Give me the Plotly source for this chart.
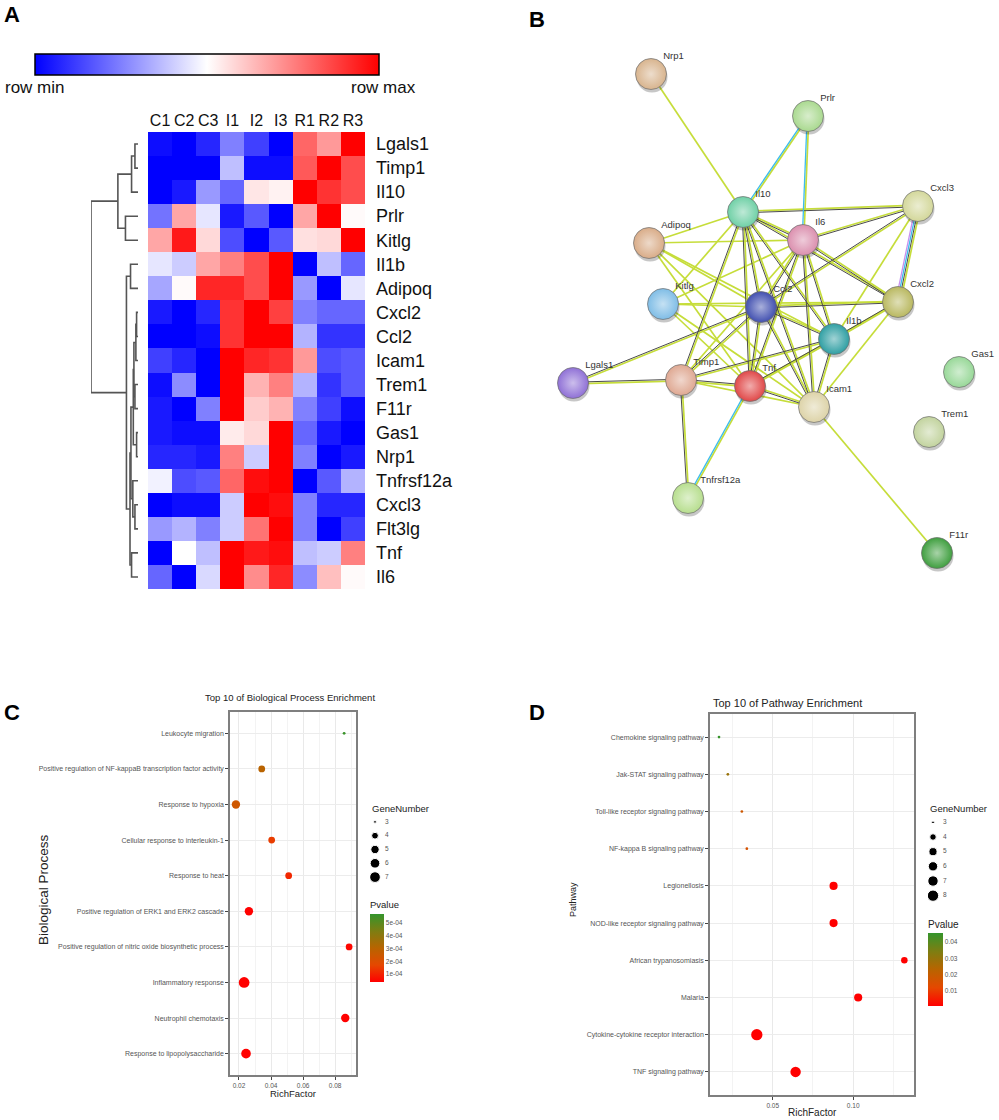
import plotly.graph_objects as go

W, H = 999, 1120
FONT = "Liberation Sans, Arial, sans-serif"

def PX(x):
    return x / W

def PY(y):
    return 1 - y / H

# ---------------- Panel A data ----------------
samples = ["C1", "C2", "C3", "I1", "I2", "I3", "R1", "R2", "R3"]
genes = ["Lgals1", "Timp1", "Il10", "Prlr", "Kitlg", "Il1b", "Adipoq", "Cxcl2", "Ccl2",
         "Icam1", "Trem1", "F11r", "Gas1", "Nrp1", "Tnfrsf12a", "Cxcl3", "Flt3lg", "Tnf", "Il6"]
expr = [
    [-0.95, -1.00, -0.85, -0.50, -0.75, -1.00, 0.60, 0.40, 1.00],
    [-1.00, -1.00, -1.00, -0.25, -0.95, -0.95, 0.65, 1.00, 0.70],
    [-1.00, -0.90, -0.40, -0.60, 0.10, 0.05, 1.00, 0.80, 0.70],
    [-0.55, 0.35, -0.10, -0.90, -0.65, -1.00, 0.35, 1.00, 0.02],
    [0.35, 0.90, 0.15, -0.70, -1.00, -0.65, 0.12, 0.15, 1.00],
    [-0.10, -0.20, 0.35, 0.50, 0.70, 1.00, -1.00, -0.25, -0.60],
    [-0.35, 0.02, 0.85, 0.85, 0.70, 1.00, -0.40, -1.00, -0.10],
    [-0.90, -1.00, -0.85, 0.80, 1.00, 0.75, -0.50, -0.60, -0.60],
    [-1.00, -1.00, -0.95, 0.80, 1.00, 1.00, -0.30, -0.80, -0.80],
    [-0.75, -0.85, -1.00, 1.00, 0.85, 0.80, 0.40, -0.70, -0.65],
    [-0.95, -0.45, -1.00, 1.00, 0.30, 0.50, -0.30, -0.80, -0.65],
    [-0.90, -1.00, -0.50, 1.00, 0.20, 0.30, -0.50, -0.75, -0.95],
    [-0.90, -0.95, -0.95, 0.08, 0.15, 1.00, -0.60, -0.90, -1.00],
    [-0.85, -0.85, -0.90, 0.50, -0.20, 1.00, -0.50, -1.00, -0.90],
    [-0.05, -0.70, -0.65, 0.60, 0.95, 1.00, -1.00, -0.65, -0.30],
    [-1.00, -0.95, -0.95, -0.20, 1.00, 0.95, -0.50, -0.85, -0.85],
    [-0.40, -0.30, -0.50, -0.20, 0.55, 1.00, -0.50, -1.00, -0.75],
    [-1.00, 0.00, -0.25, 1.00, 0.90, 0.95, -0.25, -0.20, 0.50],
    [-0.60, -1.00, -0.15, 1.00, 0.45, 0.85, -0.45, 0.25, 0.02],
]
# hierarchical clustering merges: (child_a, child_b, height); leaves 0..18, new nodes 19..
linkage = [
    (0, 1, 0.065), (19, 2, 0.137), (3, 4, 0.267), (20, 21, 0.428),
    (5, 6, 0.159), (7, 8, 0.03), (24, 9, 0.045), (10, 11, 0.065),
    (25, 26, 0.087), (12, 13, 0.03), (27, 28, 0.10), (15, 16, 0.065),
    (14, 30, 0.11), (29, 31, 0.15), (17, 18, 0.137), (32, 33, 0.17),
    (23, 34, 0.246), (22, 35, 1.0),
]

# ---------------- Panel B data ----------------
net_nodes = ["Nrp1", "Prlr", "Il10", "Cxcl3", "Adipoq", "Il6", "Kitlg", "Ccl2", "Cxcl2",
             "Il1b", "Gas1", "Lgals1", "Timp1", "Tnf", "Icam1", "Trem1", "Tnfrsf12a", "F11r"]
net_x = [651, 808, 743, 918, 649, 803, 663, 761, 898, 834, 959, 573, 681, 750, 814, 929, 688, 937]
net_y = [74, 116, 212, 206, 243, 240, 304, 307, 302, 339, 372, 383, 380, 386, 407, 432, 498, 553]
net_colors = ["#d8b48e", "#a9d98f", "#6fd0a6", "#d3d79a", "#d9ac88", "#db8fae", "#7fbde6",
              "#4250b0", "#b9b860", "#2f9fa3", "#98d898", "#8f70d6", "#dfa892", "#e04848",
              "#ddd3a8", "#c2d39e", "#b7de8e", "#3f9f3f"]
# edge evidence: g = text mining, k = co-expression, c = databases, p = experiments
net_edges = [
    ("Nrp1", "Il10", "g"), ("Prlr", "Il10", "gc"), ("Prlr", "Il6", "gc"),
    ("Il10", "Cxcl3", "gk"), ("Il6", "Cxcl3", "gk"), ("Cxcl3", "Cxcl2", "gkcp"),
    ("Cxcl3", "Ccl2", "gk"), ("Cxcl3", "Il1b", "g"), ("Il10", "Adipoq", "g"),
    ("Il10", "Il6", "gk"), ("Il10", "Ccl2", "gk"), ("Il10", "Cxcl2", "gk"),
    ("Il10", "Il1b", "gk"), ("Il10", "Tnf", "gk"), ("Il10", "Icam1", "gk"),
    ("Il10", "Timp1", "gk"), ("Il10", "Kitlg", "g"), ("Adipoq", "Il6", "g"),
    ("Adipoq", "Ccl2", "g"), ("Adipoq", "Tnf", "g"), ("Adipoq", "Icam1", "g"),
    ("Adipoq", "Il1b", "g"), ("Kitlg", "Il6", "g"), ("Kitlg", "Ccl2", "g"),
    ("Kitlg", "Tnf", "g"), ("Kitlg", "Icam1", "g"), ("Kitlg", "Cxcl2", "g"),
    ("Ccl2", "Il6", "gk"), ("Ccl2", "Cxcl2", "gk"), ("Ccl2", "Il1b", "gk"),
    ("Ccl2", "Tnf", "gk"), ("Ccl2", "Icam1", "gk"), ("Ccl2", "Timp1", "gk"),
    ("Ccl2", "Lgals1", "gk"), ("Il6", "Cxcl2", "gk"), ("Il6", "Il1b", "gk"),
    ("Il6", "Tnf", "gk"), ("Il6", "Icam1", "gk"), ("Il6", "Timp1", "g"),
    ("Cxcl2", "Il1b", "gk"), ("Cxcl2", "Icam1", "g"), ("Cxcl2", "Tnf", "g"),
    ("Il1b", "Tnf", "gk"), ("Il1b", "Icam1", "gk"), ("Il1b", "Timp1", "gk"),
    ("Tnf", "Icam1", "gk"), ("Tnf", "Timp1", "gk"), ("Tnf", "Tnfrsf12a", "gc"),
    ("Timp1", "Lgals1", "gk"), ("Timp1", "Tnfrsf12a", "gk"), ("Timp1", "Icam1", "g"),
    ("Icam1", "F11r", "g"),
]

# ---------------- Panel C data ----------------
bp_terms = ["Leukocyte migration",
            "Positive regulation of NF-kappaB transcription factor activity",
            "Response to hypoxia", "Cellular response to interleukin-1", "Response to heat",
            "Positive regulation of ERK1 and ERK2 cascade",
            "Positive regulation of nitric oxide biosynthetic process",
            "Inflammatory response", "Neutrophil chemotaxis", "Response to lipopolysaccharide"]
bp_rich = [0.0856, 0.0342, 0.0181, 0.0404, 0.0510, 0.0262, 0.0887, 0.0232, 0.0863, 0.0244]
bp_genes = [3, 4, 5, 4, 4, 5, 4, 7, 5, 6]
bp_pval = [5.6e-4, 3.0e-4, 2.4e-4, 1.5e-4, 1.1e-4, 4e-5, 5e-5, 4e-5, 4e-5, 4e-5]
bp_xticks = [0.02, 0.04, 0.06, 0.08]
bp_ptick = [1e-4, 2e-4, 3e-4, 4e-4, 5e-4]
bp_ptick_text = ["1e-04", "2e-04", "3e-04", "4e-04", "5e-04"]
bp_size_levels = [3, 4, 5, 6, 7]

# ---------------- Panel D data ----------------
kegg_terms = ["Chemokine signaling pathway", "Jak-STAT signaling pathway",
              "Toll-like receptor signaling pathway", "NF-kappa B signaling pathway",
              "Legionellosis", "NOD-like receptor signaling pathway",
              "African trypanosomiasis", "Malaria",
              "Cytokine-cytokine receptor interaction", "TNF signaling pathway"]
kegg_rich = [0.0166, 0.0221, 0.0308, 0.0339, 0.0878, 0.0878, 0.1318, 0.1031, 0.0401, 0.0642]
kegg_genes = [3, 3, 3, 3, 5, 5, 4, 5, 8, 7]
kegg_pval = [0.045, 0.029, 0.018, 0.016, 0.0008, 0.0008, 0.0008, 0.0008, 0.0008, 0.0008]
kegg_xticks = [0.05, 0.10]
kegg_ptick = [0.01, 0.02, 0.03, 0.04]
kegg_size_levels = [3, 4, 5, 6, 7, 8]

# ---------------- helpers ----------------
P_SCALE = [[0.0, "#ff0000"], [0.25, "#e54800"], [0.5, "#b86400"],
           [0.75, "#7d7e12"], [1.0, "#34952c"]]


def size_map(g, gmin, gmax, dmin, dmax):
    return dmin + (dmax - dmin) * ((g - gmin) / (gmax - gmin)) ** 0.5


def lighten(hexc, f):
    h = hexc.lstrip("#")
    r, g, b = int(h[0:2], 16), int(h[2:4], 16), int(h[4:6], 16)
    r = int(r + (255 - r) * f)
    g = int(g + (255 - g) * f)
    b = int(b + (255 - b) * f)
    return "#%02x%02x%02x" % (r, g, b)


fig = go.Figure()

# ================= Panel A: heatmap =================
fig.add_trace(go.Heatmap(
    z=expr, x=samples, y=list(range(len(genes))),
    colorscale=[[0, "#0000ff"], [0.5, "#ffffff"], [1, "#ff0000"]],
    zmin=-1, zmax=1, xaxis="x", yaxis="y", hoverinfo="skip",
    colorbar=dict(orientation="h", x=PX(35), xanchor="left", y=PY(54), yanchor="top",
                  len=344 / W, lenmode="fraction", thickness=21, xpad=0, ypad=0,
                  outlinecolor="black", outlinewidth=1.5, showticklabels=False, ticks=""),
))

# dendrogram from linkage
pos = {i: float(i) for i in range(len(genes))}
hgt = {i: 0.0 for i in range(len(genes))}
dx, dy = [], []
for k, (a, b, h) in enumerate(linkage):
    nid = len(genes) + k
    pa, pb = pos[a], pos[b]
    dx += [hgt[a], h, h, hgt[b], None]
    dy += [pa, pa, pb, pb, None]
    pos[nid] = (pa + pb) / 2
    hgt[nid] = h
fig.add_trace(go.Scatter(x=dx, y=dy, mode="lines", xaxis="x2", yaxis="y2",
                         line=dict(color="#555555", width=1.6), hoverinfo="skip",
                         showlegend=False))

# ================= Panel B: network =================
idx = {n: i for i, n in enumerate(net_nodes)}
type_color = {"g": "#c6dd3a", "k": "#4a4a4a", "c": "#3cbcec", "p": "#c890ee"}
type_width = {"g": 1.7, "k": 1.0, "c": 1.3, "p": 1.3}
seg = {t: ([], []) for t in type_color}
for a, b, types in net_edges:
    x0, y0 = net_x[idx[a]], net_y[idx[a]]
    x1, y1 = net_x[idx[b]], net_y[idx[b]]
    L = ((x1 - x0) ** 2 + (y1 - y0) ** 2) ** 0.5
    nx, ny = -(y1 - y0) / L, (x1 - x0) / L
    n = len(types)
    for i, t in enumerate(types):
        o = (i - (n - 1) / 2) * 1.6
        seg[t][0].extend([x0 + nx * o, x1 + nx * o, None])
        seg[t][1].extend([y0 + ny * o, y1 + ny * o, None])
for t in ["g", "k", "c", "p"]:
    fig.add_trace(go.Scatter(x=seg[t][0], y=seg[t][1], mode="lines", xaxis="x3", yaxis="y3",
                             line=dict(color=type_color[t], width=type_width[t]),
                             hoverinfo="skip", showlegend=False))
# shadows
fig.add_trace(go.Scatter(x=[v + 1 for v in net_x], y=[v + 3 for v in net_y], mode="markers",
                         xaxis="x3", yaxis="y3", hoverinfo="skip", showlegend=False,
                         marker=dict(size=31, color="rgba(0,0,0,0.22)", opacity=1,
                                     line=dict(width=0))))
fig.add_trace(go.Scatter(
    x=net_x, y=net_y, mode="markers", xaxis="x3", yaxis="y3",
    hoverinfo="skip", showlegend=False,
    marker=dict(size=31, color=net_colors, opacity=1,
                gradient=dict(type="radial", color=[lighten(c, 0.55) for c in net_colors]),
                line=dict(color="rgba(110,110,110,0.7)", width=1))))
# node labels
fig.add_trace(go.Scatter(
    x=net_x, y=net_y, mode="markers+text", text=net_nodes, textposition="top right",
    textfont=dict(size=9.5, color="#333333", family=FONT), xaxis="x3", yaxis="y3",
    hoverinfo="skip", showlegend=False,
    marker=dict(size=18, color="rgba(0,0,0,0)", line=dict(width=0))))

# ================= Panel C: BP dot plot =================
fig.add_trace(go.Scatter(
    x=bp_rich, y=list(range(len(bp_terms))), mode="markers", xaxis="x4", yaxis="y4",
    hoverinfo="skip", showlegend=False,
    marker=dict(size=[size_map(g, 3, 7, 2.8, 10.7) for g in bp_genes], color=bp_pval,
                colorscale=P_SCALE, cmin=3.8e-5, cmax=5.7e-4, line=dict(width=0),
                opacity=1,
                colorbar=dict(x=PX(370), xanchor="left", y=PY(898), yanchor="top",
                              len=84, lenmode="pixels", thickness=14, xpad=0, ypad=0,
                              outlinewidth=0, tickvals=bp_ptick, ticktext=bp_ptick_text,
                              ticks="", tickfont=dict(size=6.5, color="#555555", family=FONT),
                              title=dict(text="Pvalue", side="top",
                                         font=dict(size=9.5, color="#222222", family=FONT))))))
# size legend C
fig.add_trace(go.Scatter(
    x=[0] * len(bp_size_levels), y=bp_size_levels, mode="markers", xaxis="x6", yaxis="y6",
    hoverinfo="skip", showlegend=False,
    marker=dict(color="black", opacity=1,
                size=[size_map(g, 3, 7, 2.8, 10.7) for g in bp_size_levels])))
fig.add_trace(go.Scatter(
    x=[1] * len(bp_size_levels), y=bp_size_levels, mode="text",
    text=[str(g) for g in bp_size_levels], textposition="middle right",
    textfont=dict(size=6.5, color="#555555", family=FONT), xaxis="x6", yaxis="y6",
    hoverinfo="skip", showlegend=False))

# ================= Panel D: KEGG dot plot =================
fig.add_trace(go.Scatter(
    x=kegg_rich, y=list(range(len(kegg_terms))), mode="markers", xaxis="x5", yaxis="y5",
    hoverinfo="skip", showlegend=False,
    marker=dict(size=[size_map(g, 3, 8, 2.7, 11.3) for g in kegg_genes], color=kegg_pval,
                colorscale=P_SCALE, cmin=0.0009, cmax=0.0455, line=dict(width=0), opacity=1,
                colorbar=dict(x=PX(928), xanchor="left", y=PY(917), yanchor="top",
                              len=89, lenmode="pixels", thickness=15, xpad=0, ypad=0,
                              outlinewidth=0, tickvals=kegg_ptick,
                              ticktext=["0.01", "0.02", "0.03", "0.04"],
                              ticks="", tickfont=dict(size=6.5, color="#555555", family=FONT),
                              title=dict(text="Pvalue", side="top",
                                         font=dict(size=10, color="#222222", family=FONT))))))
fig.add_trace(go.Scatter(
    x=[0] * len(kegg_size_levels), y=kegg_size_levels, mode="markers", xaxis="x7", yaxis="y7",
    hoverinfo="skip", showlegend=False,
    marker=dict(color="black", opacity=1,
                size=[size_map(g, 3, 8, 2.7, 11.3) for g in kegg_size_levels])))
fig.add_trace(go.Scatter(
    x=[1] * len(kegg_size_levels), y=kegg_size_levels, mode="text",
    text=[str(g) for g in kegg_size_levels], textposition="middle right",
    textfont=dict(size=6.5, color="#555555", family=FONT), xaxis="x7", yaxis="y7",
    hoverinfo="skip", showlegend=False))

# ================= Layout =================
hidden = dict(visible=False, showgrid=False, zeroline=False)
dot_x_common = dict(showline=True, mirror=True, linecolor="#7f7f7f", linewidth=1.5,
                    showgrid=True, gridcolor="#e9e9e9", gridwidth=1, zeroline=False,
                    ticks="outside", ticklen=3, tickcolor="#444444",
                    tickfont=dict(size=6.5, color="#555555", family=FONT))
dot_y_common = dict(showline=True, mirror=True, linecolor="#7f7f7f", linewidth=1.5,
                    showgrid=True, gridcolor="#ececec", gridwidth=1, zeroline=False,
                    ticks="outside", ticklen=3, tickcolor="#444444",
                    tickfont=dict(size=7, color="#555555", family=FONT))

fig.update_layout(
    width=W, height=H, margin=dict(l=0, r=0, t=0, b=0, autoexpand=False),
    paper_bgcolor="white", plot_bgcolor="white", showlegend=False,
    font=dict(family=FONT, color="#222222"),
    xaxis=dict(domain=[PX(148), PX(365)], anchor="y", side="top", ticks="", showgrid=False,
               zeroline=False, tickfont=dict(size=16, color="#111111", family=FONT),
               ticklabelstandoff=2, automargin=False),
    yaxis=dict(domain=[PY(589), PY(132)], anchor="x", side="right", range=[18.5, -0.5],
               tickvals=list(range(len(genes))), ticktext=genes, ticks="", showgrid=False,
               zeroline=False, tickfont=dict(size=18, color="#111111", family=FONT),
               ticklabelstandoff=10, automargin=False),
    xaxis2=dict(domain=[PX(91), PX(138)], anchor="y2", range=[1.0, 0.0], **hidden),
    yaxis2=dict(domain=[PY(589), PY(132)], anchor="x2", range=[18.5, -0.5], **hidden),
    xaxis3=dict(domain=[PX(500), 1.0], anchor="y3", range=[500, 999], **hidden),
    yaxis3=dict(domain=[PY(620), PY(30)], anchor="x3", range=[620, 30], **hidden),
    xaxis4=dict(domain=[PX(230), PX(356)], anchor="y4", range=[0.0144, 0.093],
                tickvals=bp_xticks, ticktext=["0.02", "0.04", "0.06", "0.08"],
                minor=dict(dtick=0.01, showgrid=True, gridcolor="#f3f3f3", ticks=""),
                automargin=False, **dot_x_common),
    yaxis4=dict(domain=[PY(1075), PY(712)], anchor="x4", range=[9.6, -0.6],
                tickvals=list(range(len(bp_terms))), ticktext=bp_terms, automargin=False,
                **dot_y_common),
    xaxis5=dict(domain=[PX(710), PX(914)], anchor="y5", range=[0.011, 0.1378],
                tickvals=kegg_xticks, ticktext=["0.05", "0.10"],
                minor=dict(dtick=0.025, showgrid=True, gridcolor="#f3f3f3", ticks=""),
                automargin=False, **dot_x_common),
    yaxis5=dict(domain=[PY(1095), PY(714)], anchor="x5", range=[9.62, -0.62],
                tickvals=list(range(len(kegg_terms))), ticktext=kegg_terms, automargin=False,
                **dot_y_common),
    xaxis6=dict(domain=[PX(370), PX(400)], anchor="y6", range=[-0.5, 2.5], **hidden),
    yaxis6=dict(domain=[PY(884), PY(815)], anchor="x6", range=[7.5, 2.5], **hidden),
    xaxis7=dict(domain=[PX(928), PX(958)], anchor="y7", range=[-0.5, 2.5], **hidden),
    yaxis7=dict(domain=[PY(903), PY(815)], anchor="x7", range=[8.5, 2.5], **hidden),
)

ann = []


def add_text(x, y, text, size, xanchor="center", color="#222222", bold=False, angle=0):
    ann.append(dict(x=PX(x), y=PY(y), xref="paper", yref="paper",
                    text=("<b>%s</b>" % text) if bold else text,
                    showarrow=False, xanchor=xanchor, yanchor="middle", textangle=angle,
                    font=dict(size=size, color=color, family=FONT)))


add_text(12, 15, "A", 22, bold=True, color="black")
add_text(537, 19, "B", 22, bold=True, color="black")
add_text(12, 712, "C", 22, bold=True, color="black")
add_text(537, 712, "D", 22, bold=True, color="black")
add_text(3, 87, "row min", 17, xanchor="left", color="#111111")
add_text(418, 87, "row max", 17, xanchor="right", color="#111111")
add_text(290, 697, "Top 10 of Biological Process Enrichment", 9.5)
add_text(293, 1093, "RichFactor", 9.5)
add_text(43, 890, "Biological Process", 13.5, angle=-90)
add_text(370, 808, "GeneNumber", 9.5, xanchor="left")
add_text(787, 703, "Top 10 of Pathway Enrichment", 11)
add_text(812, 1112, "RichFactor", 10)
add_text(573, 900, "Pathway", 9, angle=-90)
add_text(928, 808, "GeneNumber", 9.5, xanchor="left")
fig.update_layout(annotations=ann)

fig.write_html(
    "out.html",
    config={"displayModeBar": False},
    post_script=("document.body.style.margin='0px';"
                 "document.body.style.overflow='hidden';"
                 "document.documentElement.style.overflow='hidden';"),
)
